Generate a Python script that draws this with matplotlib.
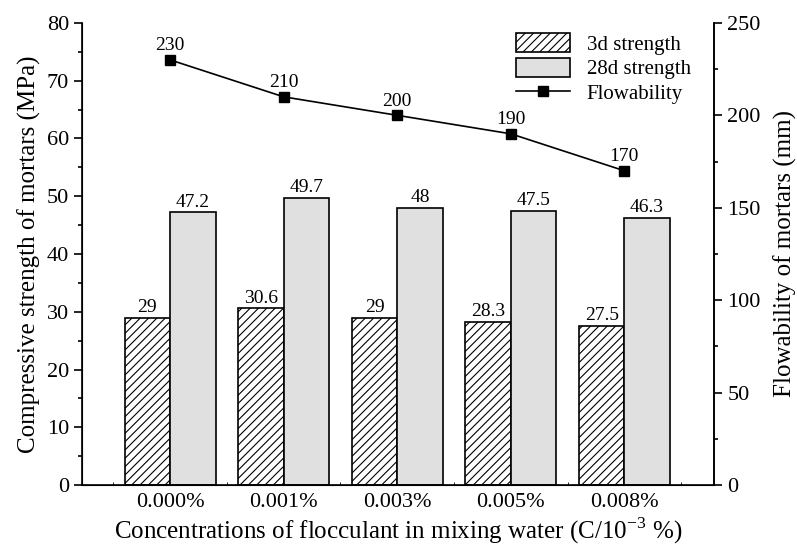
import numpy as np
from matplotlib import pyplot as plt
from matplotlib.ticker import MultipleLocator

plt.rcParams['font.family'] = ['Liberation Serif', 'DejaVu Serif']
plt.rcParams['hatch.linewidth'] = 0.8
plt.rcParams['mathtext.fontset'] = 'custom'
plt.rcParams['mathtext.rm'] = 'Liberation Serif'

concentrations = ['0.000%', '0.001%', '0.003%', '0.005%', '0.008%']
strength_3d = [29, 30.6, 29, 28.3, 27.5]
strength_28d = [47.2, 49.7, 48, 47.5, 46.3]
flowability = [230, 210, 200, 190, 170]

x = np.arange(len(concentrations))
width = 0.4

fig = plt.figure(figsize=(7.97, 5.45), dpi=100)
ax = fig.add_axes([0.103, 0.11, 0.793, 0.848])

b3 = ax.bar(x - width / 2, strength_3d, width, color='white', edgecolor='black',
            hatch='////', linewidth=1.2, label='3d strength')
b28 = ax.bar(x + width / 2, strength_28d, width, color='#e0e0e0', edgecolor='black',
             linewidth=1.2, label='28d strength')

for xi, v in zip(x, strength_3d):
    ax.text(xi - width / 2, v + 0.3, f'{v:g}', ha='center', va='bottom', fontsize=14)
for xi, v in zip(x, strength_28d):
    ax.text(xi + width / 2, v + 0.3, f'{v:g}', ha='center', va='bottom', fontsize=14)

ax.set_xlim(-0.775, 4.79)
ax.set_ylim(0, 80)
ax.set_xticks(x)
ax.set_xticklabels(concentrations, fontsize=16)
ax.set_xticks(np.append(x - 0.5, 4.5), minor=True)
ax.tick_params(axis='x', which='major', length=0, pad=6)
ax.tick_params(axis='x', which='minor', direction='in', length=2)
ax.yaxis.set_major_locator(MultipleLocator(10))
ax.yaxis.set_minor_locator(MultipleLocator(5))
ax.tick_params(axis='y', which='major', length=6, width=1.2, labelsize=16)
ax.tick_params(axis='y', which='minor', length=3, width=1.2)
ax.set_xlabel('Concentrations of flocculant in mixing water (C/10$^{\\mathregular{-3}}$ %)',
              fontsize=18, labelpad=2)
ax.set_ylabel('Compressive strength of mortars (MPa)', fontsize=18, labelpad=4)
ax.spines['top'].set_visible(False)
for s in ['left', 'bottom', 'right']:
    ax.spines[s].set_linewidth(1.2)

ax2 = ax.twinx()
line, = ax2.plot(x, flowability, color='black', marker='s', markersize=6.5,
                 linewidth=1.2, label='Flowability')
for xi, v in zip(x, flowability):
    ax2.text(xi, v + 3, str(v), ha='center', va='bottom', fontsize=14)
ax2.set_ylim(0, 250)
ax2.yaxis.set_major_locator(MultipleLocator(50))
ax2.yaxis.set_minor_locator(MultipleLocator(25))
ax2.tick_params(axis='y', which='major', length=6, width=1.2, labelsize=16)
ax2.tick_params(axis='y', which='minor', length=3, width=1.2)
ax2.set_ylabel('Flowability of mortars (mm)', fontsize=18, labelpad=9)
ax2.spines['top'].set_visible(False)
ax2.spines['right'].set_linewidth(1.2)

ax.legend([b3, b28, line], ['3d strength', '28d strength', 'Flowability'],
          loc='upper left', bbox_to_anchor=(0.67, 1.0), frameon=False,
          fontsize=15, handlelength=2.6, handleheight=1.0, labelspacing=0.15,
          handletextpad=0.8, borderaxespad=0.1)

plt.savefig('out.png', dpi=100)
